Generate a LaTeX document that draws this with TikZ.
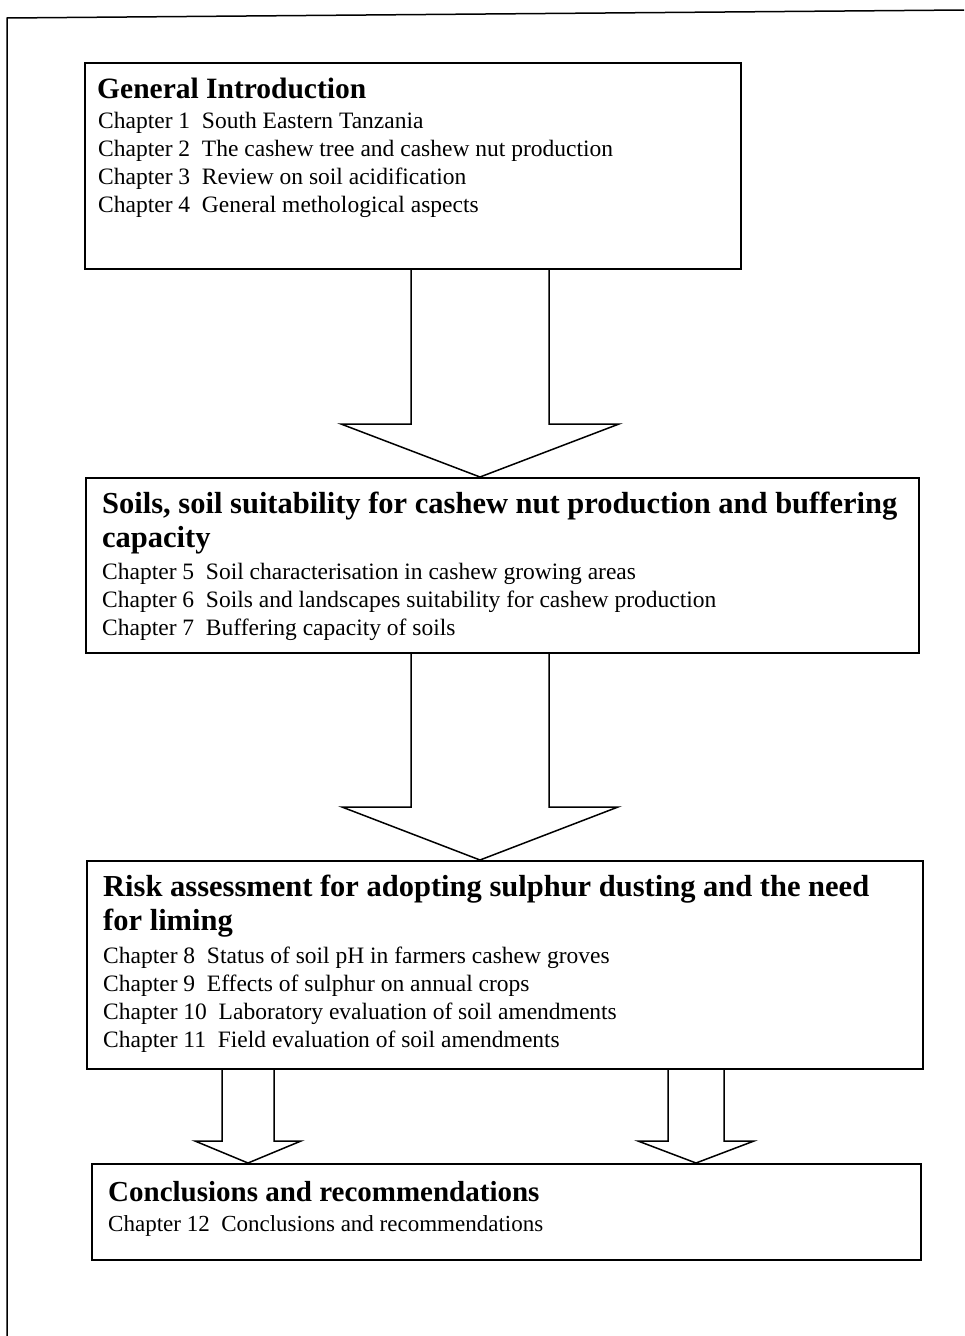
\documentclass[tikz,border=0pt]{standalone}
\usepackage{fontspec}
\setmainfont{Liberation Serif}
\usetikzlibrary{calc}

% block arrow between two boxes: from, to, centre x, shaft half width, head half width, head length
\newcommand{\blockarrow}[6]{%
  \draw[arrowline] (#3,0 |- #2.north) -- ++(-#5,-#6) -- ++(#5-#4,0) -- (#3-#4,0 |- #1.south);
  \draw[arrowline] (#3,0 |- #2.north) -- ++(#5,-#6) -- ++(#4-#5,0) -- (#3+#4,0 |- #1.south);
}

\begin{document}
\begin{tikzpicture}[x=1pt, y=-1pt,
    box/.style={draw, line width=1.5pt, anchor=north west, inner sep=0pt},
    boxtitle/.style={anchor=base west, inner sep=0pt, font=\fontsize{29.5}{35}\selectfont\bfseries},
    chap/.style={anchor=base west, inner sep=0pt, font=\fontsize{23.5}{28}\selectfont},
    arrowline/.style={line width=1.5pt, line join=miter},
    frame/.style={line width=1.5pt}]
                \useasboundingbox (0,0) rectangle (964,1336);
                % Page frame
                \draw[frame] (964,10) -- (7,18) -- (7,1336);
                
                % Boxes
                \node[box, minimum width=656pt, minimum height=206pt] (intro) at (84,62) {};
                \node[box, minimum width=833pt, minimum height=175pt] (soils) at (85,477) {};
                \node[box, minimum width=836pt, minimum height=208pt] (risk) at (86,860) {};
                \node[box, minimum width=829pt, minimum height=96pt] (concl) at (91,1163) {};
                
                % General introduction
                \node[boxtitle] (intro-t1) at (97,98) {General Introduction};
                \foreach \n/\txt [count=\i from 0] in {1/South Eastern Tanzania, 2/The cashew tree and cashew nut production, 3/Review on soil acidification, 4/General methological aspects}
                    \node[chap] (intro-c\n) at (98,{128+28*\i}) {Chapter \n~~\txt};
                
                % Soils
                \node[boxtitle, font=\fontsize{30.5}{35}\selectfont\bfseries] (soils-t1) at (102,513) {Soils, soil suitability for cashew nut production and buffering};
                \node[boxtitle, font=\fontsize{30.5}{35}\selectfont\bfseries] (soils-t2) at (102,547) {capacity};
                \foreach \n/\txt [count=\i from 0] in {5/Soil characterisation in cashew growing areas, 6/Soils and landscapes suitability for cashew production, 7/Buffering capacity of soils}
                    \node[chap] (soils-c\n) at (102,{579+28*\i}) {Chapter \n~~\txt};
                
                % Risk assessment
                \node[boxtitle, font=\fontsize{30.5}{35}\selectfont\bfseries] (risk-t1) at (103,896) {Risk assessment for adopting sulphur dusting and the need};
                \node[boxtitle, font=\fontsize{30.5}{35}\selectfont\bfseries] (risk-t2) at (103,930) {for liming};
                \foreach \n/\txt [count=\i from 0] in {8/Status of soil pH in farmers cashew groves, 9/Effects of sulphur on annual crops, 10/Laboratory evaluation of soil amendments, 11/Field evaluation of soil amendments}
                    \node[chap] (risk-c\n) at (103,{963+28*\i}) {Chapter \n~~\txt};
                
                % Conclusions
                \node[boxtitle, font=\fontsize{29}{35}\selectfont\bfseries] (concl-t1) at (108,1201) {Conclusions and recommendations};
                \node[chap, font=\fontsize{23}{28}\selectfont] (concl-c12) at (108,1231) {Chapter 12~~Conclusions and recommendations};
                
                % Arrows
                \blockarrow{intro}{soils}{480}{69}{139}{53}
                \blockarrow{soils}{risk}{480}{69}{138}{53}
                \blockarrow{risk}{concl}{248}{26}{53}{22}
                \blockarrow{risk}{concl}{696}{28}{58}{22}
\end{tikzpicture}
\end{document}
